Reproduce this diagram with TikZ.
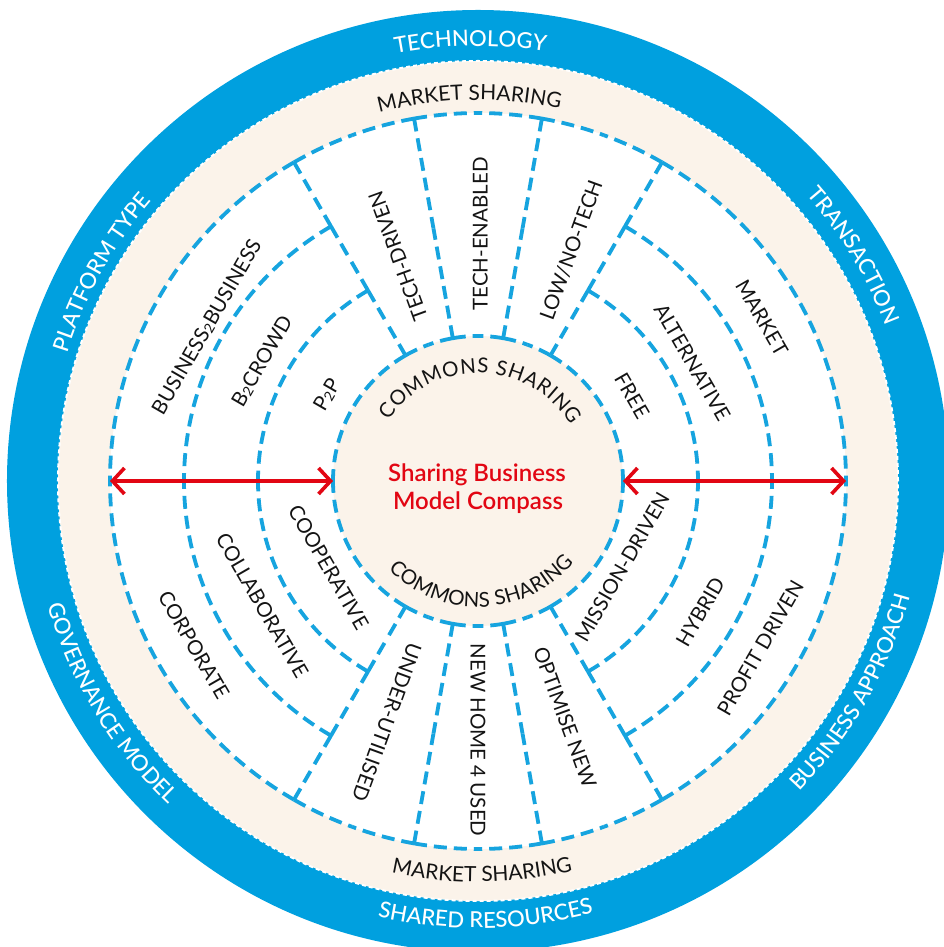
\documentclass[tikz,border=0pt]{standalone}
\usepackage{fontspec}
\setmainfont{Lato}
\IfFontExistsTF{Lato Light}{\newfontfamily\lightfont{Lato Light}}{\newfontfamily\lightfont{Lato}}
\IfFontExistsTF{Lato Medium}{\newfontfamily\medfont{Lato Medium}}{\newfontfamily\medfont{Lato}}
\IfFontExistsTF{Lato Semibold}{\newfontfamily\semifont{Lato Semibold}}{\newfontfamily\semifontbase{Lato}\newcommand\semifont{\semifontbase\bfseries}}
\newfontfamily\regfont{Lato}
\usetikzlibrary{decorations.text,arrows.meta}
\definecolor{ringblue}{RGB}{0,160,223}
\definecolor{dashblue}{RGB}{22,164,223}
\definecolor{beige}{RGB}{251,243,234}
\definecolor{titlered}{RGB}{226,6,19}
\definecolor{ink}{RGB}{20,20,20}

\newcommand\mysub{{\fontsize{14}{14}\selectfont\raisebox{-1pt}{2}}}
\newcommand\myradseg[3]{%
  \pgfmathsetmacro\mymid{(#2+#3)/2}%
  \draw[dsh] (#1:#2) -- (#1:\mymid);
  \draw[dsh] (#1:#3) -- (#1:\mymid);}
\newcommand\myarcseg[3]{%
  \pgfmathsetmacro\mymid{(#2+#3)/2}%
  \draw[dsh] (#2:#1) arc[start angle=#2, end angle=\mymid, radius=#1pt];
  \draw[dsh] (#3:#1) arc[start angle=#3, end angle=\mymid, radius=#1pt];}
% text on top arc (clockwise, tops outward)
\newcommand\mytoptext[5]{%
  \path[decorate, decoration={text along path, text={|#4|#5}, text align=center}]
    (#1+#3:#2) arc[start angle=#1+#3, end angle=#1-#3, radius=#2pt];}
% text on bottom arc (counter-clockwise, tops inward)
\newcommand\mybottext[5]{%
  \path[decorate, decoration={text along path, text={|#4|#5}, text align=center}]
    (#1-#3:#2) arc[start angle=#1-#3, end angle=#1+#3, radius=#2pt];}
\newcommand\myfittext[5]{%
  \path[decorate, decoration={text along path, text={|#4|#5}, text align=fit to path}]
    (#2:#1) arc[start angle=#2, end angle=#3, radius=#1pt];}

\newcommand\ringfmt{\color{white}\medfont\fontsize{22}{22}\selectfont}
\newcommand\mktfmt{\color{ink}\regfont\fontsize{21}{21}\selectfont}
\newcommand\comfmt{\color{ink}\regfont\fontsize{20.5}{20.5}\selectfont}

\tikzset{
  dsh/.style={draw=dashblue, line width=3.8pt, dash pattern=on 13pt off 7pt},
  secttext/.style={font=\regfont\fontsize{20.5}{20.5}\selectfont, text=ink, inner sep=0pt},
  titletext/.style={font=\semifont\fontsize{24}{24}\selectfont, text=titlered, inner sep=0pt, anchor=base},
  redarrow/.style={draw=titlered, line width=3.6pt,
    {Straight Barb[length=12pt,width=26pt]}-{Straight Barb[length=12pt,width=26pt]}}
}

\begin{document}
\begin{tikzpicture}[x=1pt,y=1pt]
\useasboundingbox (-478,-466) rectangle (466,481);
\clip (-478,-466) rectangle (466,481);
\fill[white] (-478,-466) rectangle (466,481);
% discs
\fill[ringblue] (0,0) circle[radius=471pt];
\fill[beige] (0,0) circle[radius=420pt];
\draw[white, line width=2pt, dash pattern=on 4pt off 3pt] (0,0) circle[radius=420pt];
\fill[white] (0,0) circle[radius=368pt];
\fill[beige] (0,0) circle[radius=145pt];

% dashed structure
\foreach \r in {368,145}{
  \myarcseg{\r}{-60}{60}
  \myarcseg{\r}{120}{240}
  \myarcseg{\r}{60}{80}
  \myarcseg{\r}{80}{100}
  \myarcseg{\r}{100}{120}
  \myarcseg{\r}{240}{260}
  \myarcseg{\r}{260}{280}
  \myarcseg{\r}{280}{300}
}
\foreach \r in {294,220}{
  \myarcseg{\r}{-60}{60}
  \myarcseg{\r}{120}{240}
}
\foreach \a in {60,120,240,300}{
  \myradseg{\a}{145}{220}
  \myradseg{\a}{220}{294}
  \myradseg{\a}{294}{368}
}
\foreach \a in {80,100,260,280}{
  \myradseg{\a}{145}{368}
}

% ring texts
\mytoptext{91}{435}{40}{\ringfmt}{TECHNOLOGY}
\mytoptext{31}{436}{40}{\ringfmt}{TRANSACTION}
\mytoptext{151}{430}{40}{\ringfmt}{PLATFORM TYPE}
\mybottext{-29.5}{447}{40}{\ringfmt}{BUSINESS APPROACH}
\mybottext{271}{447}{40}{\ringfmt}{SHARED RESOURCES}
\mybottext{211.2}{448}{40}{\ringfmt}{GOVERNANCE MODEL}
\mytoptext{91.3}{381}{40}{\mktfmt}{MARKET SHARING}
\mybottext{270.6}{401}{40}{\mktfmt}{MARKET SHARING}
\myfittext{108}{146}{31}{\comfmt}{COMMONS SHARING}
\myfittext{126}{224.5}{319.5}{\comfmt}{COMMONS SHARING}

% sector texts
\node[secttext, rotate=60] (b2b) at (150.4:312) {BUSINESS\mysub BUSINESS};
\node[secttext, rotate=60] (b2c) at (151:247) {B\mysub CROWD};
\node[secttext, rotate=60] (p2p) at (150.3:174) {P\mysub P};
\node[secttext, rotate=-60] (corp) at (210:328) {CORPORATE};
\node[secttext, rotate=-60] (collab) at (210:249) {COLLABORATIVE};
\node[secttext, rotate=-60] (coop) at (210:172.5) {COOPERATIVE};
\node[secttext, rotate=-60] (market) at (29.9:327.5) {MARKET};
\node[secttext, rotate=-60] (alt) at (29:245) {ALTERNATIVE};
\node[secttext, rotate=-60] (free) at (28.9:176) {FREE};
\node[secttext, rotate=60] (mission) at (-30.9:168) {MISSION-DRIVEN};
\node[secttext, rotate=60] (hybrid) at (-30.5:258) {HYBRID};
\node[secttext, rotate=60] (profit) at (-30.6:328) {PROFIT DRIVEN};
\node[secttext, rotate=110] (tdriven) at (109.6:239) {TECH-DRIVEN};
\node[secttext, rotate=90] (tenabled) at (89.5:247) {TECH-ENABLED};
\node[secttext, rotate=70] (lowtech) at (68:249) {LOW/NO-TECH};
\node[secttext, rotate=-110] (under) at (249.3:258) {UNDER-UTILISED};
\node[secttext, rotate=-90] (newhome) at (270:259) {NEW HOME 4 USED};
\node[secttext, rotate=-70] (optimise) at (290.2:252) {OPTIMISE NEW};

% centre title
\node[titletext] (title1) at (-1,-1) {Sharing Business};
\node[titletext] (title2) at (0,-29) {Model Compass};

% red arrows
\coordinate (lout) at (180:368);
\coordinate (lin) at (180:145);
\coordinate (rin) at (0:145);
\coordinate (rout) at (0:368);
\draw[redarrow] (lout) -- (lin);
\draw[redarrow] (rin) -- (rout);
\end{tikzpicture}
\end{document}
